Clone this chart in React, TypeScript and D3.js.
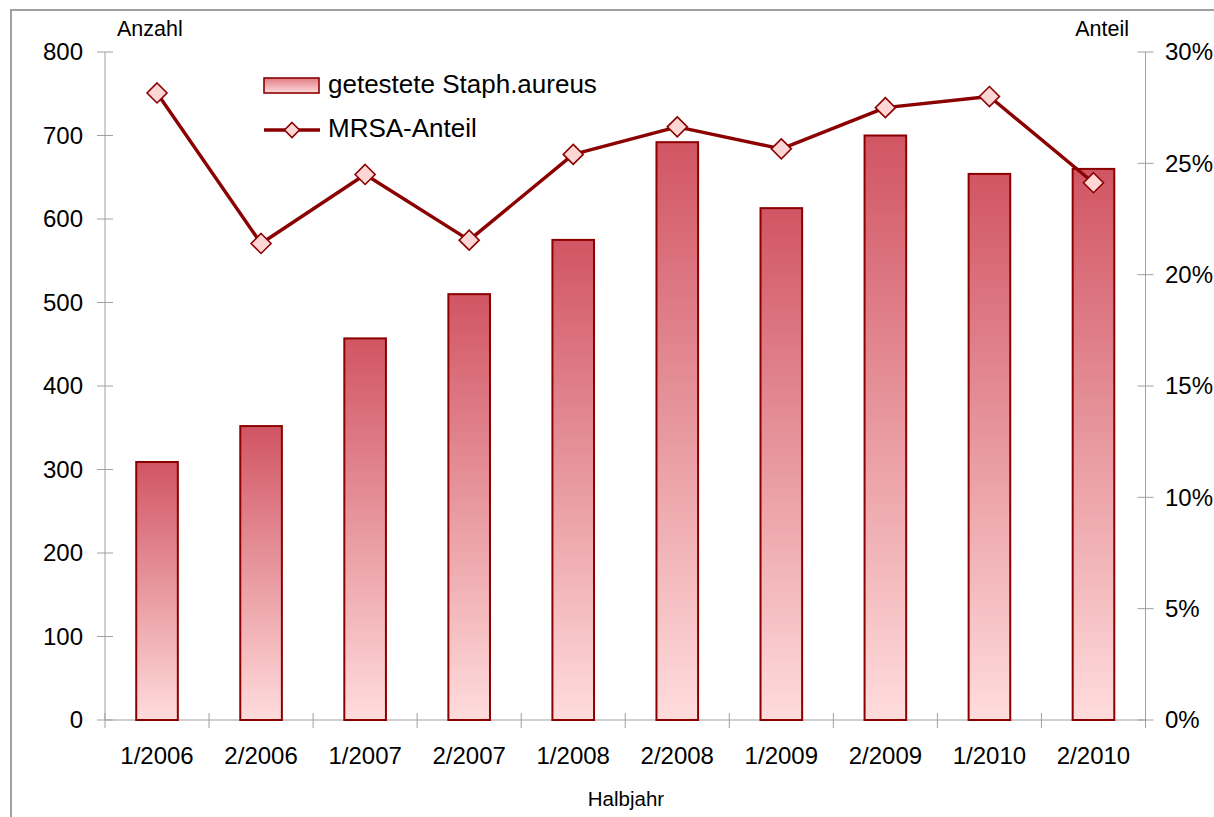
import React from "react";
import * as d3 from "d3";

// Half-year periods and values
const categories = [
  "1/2006", "2/2006", "1/2007", "2/2007", "1/2008",
  "2/2008", "1/2009", "2/2009", "1/2010", "2/2010",
];
// Number of tested Staph. aureus isolates
const tested = [309, 352, 457, 510, 575, 692, 613, 700, 654, 660];
// MRSA share (fraction)
const mrsaShare = [0.2816, 0.214, 0.245, 0.2155, 0.254, 0.2664, 0.2565, 0.275, 0.28, 0.2413];

const leftTicks = [0, 100, 200, 300, 400, 500, 600, 700, 800];
const rightTicks = [0, 0.05, 0.1, 0.15, 0.2, 0.25, 0.3];

const W = 1214;
const H = 817;
const plot = { left: 105, right: 1145.5, top: 52, bottom: 720 };

const DARK = "#8B0000";
const AXIS = "#A0A0A0";
const FONT = "Liberation Sans, Arial, sans-serif";

export default function App() {
  const x = d3
    .scaleBand<string>()
    .domain(categories)
    .range([plot.left, plot.right])
    .paddingInner(0.6)
    .paddingOuter(0.3);
  const yL = d3.scaleLinear().domain([0, 800]).range([plot.bottom, plot.top]);
  const yR = d3.scaleLinear().domain([0, 0.3]).range([plot.bottom, plot.top]);
  const step = x.step();
  const cx = (c: string) => (x(c) ?? 0) + x.bandwidth() / 2;

  const line = d3
    .line<number>()
    .x((_, i) => cx(categories[i]))
    .y((d) => yR(d));

  const pct = d3.format(".0%");

  const diamond = (px: number, py: number, r: number, key?: string) => (
    <path
      key={key}
      d={`M${px},${py - r}L${px + r},${py}L${px},${py + r}L${px - r},${py}Z`}
      fill="#FFD6D6"
      stroke={DARK}
      strokeWidth={1.6}
    />
  );

  return (
    <div style={{ position: "absolute", left: 0, top: 0 }}>
      <svg width={W} height={H} style={{ display: "block", fontFamily: FONT }}>
        <defs>
          <linearGradient id="barFill" x1="0" y1="0" x2="0" y2="1">
            <stop offset="0%" stopColor="#D15563" />
            <stop offset="100%" stopColor="#FFDCDC" />
          </linearGradient>
          <linearGradient id="legendFill" x1="0" y1="0" x2="0" y2="1">
            <stop offset="0%" stopColor="#E07A84" />
            <stop offset="100%" stopColor="#FFDCDC" />
          </linearGradient>
        </defs>
        <rect x={0} y={0} width={W} height={H} fill="#fff" />
        {/* chart frame */}
        <rect x={11} y={10} width={W + 20} height={H + 20} fill="none" stroke={AXIS} strokeWidth={2} />

        {/* axes lines */}
        <line x1={plot.left} x2={plot.left} y1={plot.top} y2={plot.bottom} stroke={AXIS} />
        <line x1={plot.right} x2={plot.right} y1={plot.top} y2={plot.bottom} stroke={AXIS} />
        <line x1={plot.left} x2={plot.right} y1={plot.bottom} y2={plot.bottom} stroke={AXIS} />

        {/* left axis ticks */}
        {leftTicks.map((t) => (
          <g key={"l" + t}>
            <line x1={plot.left - 8} x2={plot.left + 8} y1={yL(t)} y2={yL(t)} stroke={AXIS} />
            <text x={83} y={yL(t)} dy="0.35em" textAnchor="end" fontSize={24} fill="#000">
              {t}
            </text>
          </g>
        ))}
        {/* right axis ticks */}
        {rightTicks.map((t) => (
          <g key={"r" + t}>
            <line x1={plot.right - 8} x2={plot.right + 8} y1={yR(t)} y2={yR(t)} stroke={AXIS} />
            <text x={1165} y={yR(t)} dy="0.35em" textAnchor="start" fontSize={24} fill="#000">
              {pct(t)}
            </text>
          </g>
        ))}
        {/* category boundary ticks */}
        {d3.range(categories.length + 1).map((i) => {
          const xx = plot.left + i * step;
          return <line key={"c" + i} x1={xx} x2={xx} y1={plot.bottom - 7} y2={plot.bottom + 8} stroke={AXIS} />;
        })}
        {categories.map((c) => (
          <text key={"t" + c} x={cx(c)} y={764} textAnchor="middle" fontSize={24} fill="#000">
            {c}
          </text>
        ))}

        {/* axis titles */}
        <text x={117} y={36} fontSize={21.5} fill="#000">Anzahl</text>
        <text x={1129} y={36} fontSize={21.5} textAnchor="end" fill="#000">Anteil</text>
        <text x={626} y={806} fontSize={20.5} textAnchor="middle" fill="#000">Halbjahr</text>

        {/* bars */}
        {tested.map((v, i) => (
          <rect
            key={"b" + i}
            x={x(categories[i])}
            y={yL(v)}
            width={x.bandwidth()}
            height={yL(0) - yL(v)}
            fill="url(#barFill)"
            stroke={DARK}
            strokeWidth={2}
          />
        ))}

        {/* MRSA share line */}
        <path d={line(mrsaShare) ?? ""} fill="none" stroke={DARK} strokeWidth={3.4} strokeLinejoin="round" />
        {mrsaShare.map((v, i) => diamond(cx(categories[i]), yR(v), 10, "m" + i))}

        {/* legend */}
        <rect x={264} y={78} width={55} height={15} fill="url(#legendFill)" stroke={DARK} strokeWidth={1.6} />
        <text x={328} y={93} fontSize={26} fill="#000">getestete Staph.aureus</text>
        <line x1={264} x2={320} y1={130} y2={130} stroke={DARK} strokeWidth={3.4} />
        {diamond(292, 130, 7.5)}
        <text x={328} y={137} fontSize={26} fill="#000">MRSA-Anteil</text>
      </svg>
    </div>
  );
}
